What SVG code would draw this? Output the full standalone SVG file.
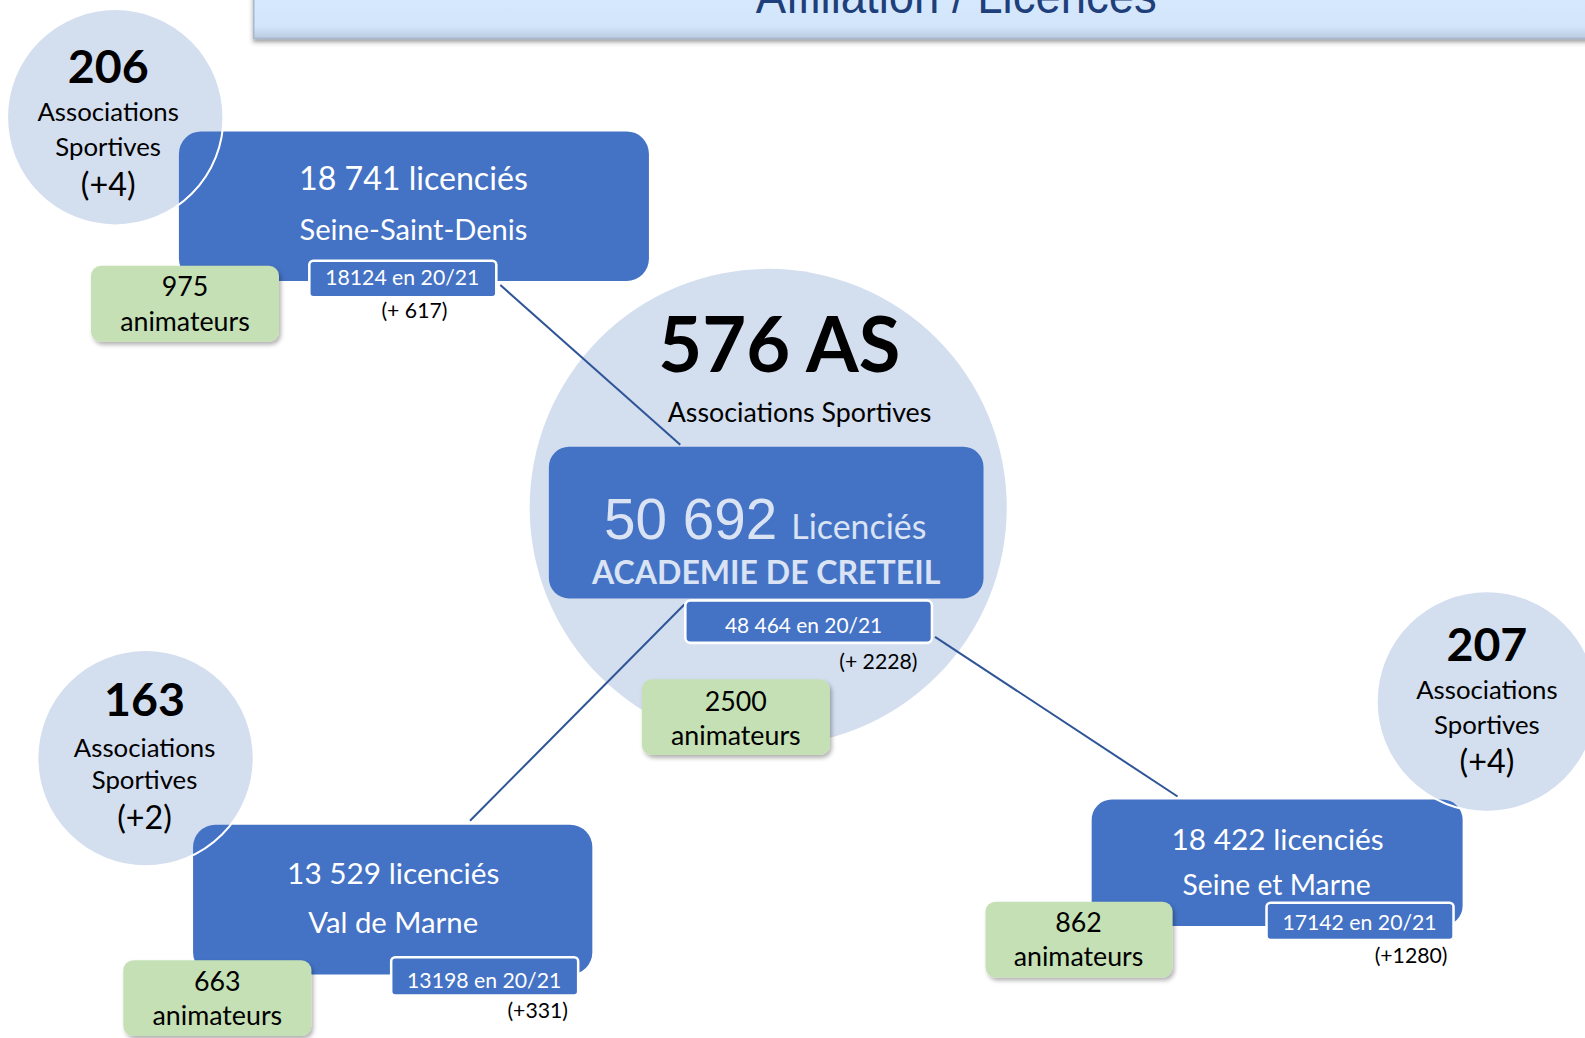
<svg xmlns="http://www.w3.org/2000/svg" width="1585" height="1038" viewBox="0 0 1585 1038">
<defs>
<style>
.circ{fill:#D3DEEF}
.ring{fill:none;stroke:#FFFFFF;stroke-width:2}
.box{fill:#4472C4}
.lbl{fill:#4472C4;stroke:#FFFFFF;stroke-width:2.5}
.green{fill:#C5E0B4;filter:url(#sh)}
.t{font-family:Lato,"Open Sans","Liberation Sans",sans-serif;text-anchor:middle}
.w{fill:#FFFFFF}
.k{fill:#000000}
.big{font-weight:bold}
.n{font-size:46px}
.as{font-size:25.5px}
.pl{font-size:32px}
.sm{font-size:21px}
.an{font-size:26.5px}
.conn{stroke:#2F5597;stroke-width:2;fill:none}
</style>
<filter id="sh" x="-20%" y="-20%" width="140%" height="150%">
<feDropShadow dx="2" dy="3" stdDeviation="2" flood-color="#000000" flood-opacity="0.3"/>
</filter>
<filter id="bsh" x="-5%" y="-50%" width="110%" height="200%">
<feDropShadow dx="0" dy="3" stdDeviation="2" flood-color="#404040" flood-opacity="0.5"/>
</filter>
<linearGradient id="bg" x1="0" y1="0" x2="0" y2="1">
<stop offset="0" stop-color="#D7E9FD"/>
<stop offset="0.75" stop-color="#D3E5FA"/>
<stop offset="1" stop-color="#B9CBE0"/>
</linearGradient>
</defs>
<g transform="scale(1.0108)">
<g id="banner">
<rect x="251" y="-10" width="1340" height="48" fill="url(#bg)" stroke="#A8B8CC" stroke-width="1.5" filter="url(#bsh)"/>
<text x="946" y="13" font-family="'Liberation Sans',Arial,sans-serif" font-size="45" fill="#1F3F7A" text-anchor="middle" transform="translate(946 13) scale(1 1.1) translate(-946 -13)">Affiliation / Licences</text>
</g>

<g id="center-circle">
<circle class="circ" cx="760" cy="502" r="236"/>
</g>

<g id="connectors">
<line class="conn" x1="495" y1="282" x2="673" y2="440"/>
<line class="conn" x1="677" y1="598" x2="465" y2="812"/>
<line class="conn" x1="925" y1="630" x2="1165" y2="788"/>
</g>

<g id="academie">
<text class="t k big" x="771" y="368" font-size="75">576 AS</text>
<text class="t k" x="791" y="417" font-size="26.5">Associations Sportives</text>
<rect class="box" x="543" y="442" width="430" height="150" rx="20"/>
<text x="757" y="533" text-anchor="middle" fill="#DAE3F3"><tspan font-family="'Liberation Sans',Arial,sans-serif" font-size="56">50 692</tspan><tspan font-family="Lato,'Open Sans',sans-serif" font-size="33.5" dx="14">Licenciés</tspan></text>
<text class="t big" x="758" y="578" font-size="31.7" fill="#DAE3F3">ACADEMIE DE CRETEIL</text>
<rect class="lbl" x="678" y="594" width="244" height="42" rx="5"/>
<text class="t w" x="795" y="626" font-size="20.7">48 464 en 20/21</text>
<text class="t k sm" x="869" y="662">(+ 2228)</text>
<rect class="green" x="635" y="672" width="186" height="75" rx="10"/>
<text class="t k an" x="728" y="703">2500</text>
<text class="t k an" x="728" y="737">animateurs</text>
</g>

<g id="seine-saint-denis">
<circle class="circ" cx="114" cy="116" r="107"/>
<rect class="box" x="177" y="130" width="465" height="148" rx="22"/>
<circle class="ring" cx="114" cy="116" r="107"/>
<text class="t k big n" x="107" y="82">206</text>
<text class="t k as" x="107" y="120">Associations</text>
<text class="t k as" x="107" y="154">Sportives</text>
<text class="t k pl" x="107" y="194">(+4)</text>
<text class="t w" x="409" y="188" font-size="31.8">18 741 licenciés</text>
<text class="t w" x="409" y="237" font-size="28.8">Seine-Saint-Denis</text>
<rect class="lbl" x="306" y="258" width="185" height="36" rx="4"/>
<text class="t w sm" x="398" y="282">18124 en 20/21</text>
<text class="t k sm" x="410" y="315">(+ 617)</text>
<rect class="green" x="90" y="263" width="186" height="75" rx="10"/>
<text class="t k an" x="183" y="293">975</text>
<text class="t k an" x="183" y="327">animateurs</text>
</g>

<g id="seine-et-marne">
<circle class="circ" cx="1471" cy="694" r="109"/>
<rect class="box" x="1080" y="791" width="367" height="125" rx="20"/>
<circle class="ring" cx="1471" cy="694" r="109"/>
<text class="t k big n" x="1471" y="654">207</text>
<text class="t k as" x="1471" y="692">Associations</text>
<text class="t k as" x="1471" y="726">Sportives</text>
<text class="t k pl" x="1471" y="765">(+4)</text>
<text class="t w" x="1264" y="841" font-size="29.5">18 422 licenciés</text>
<text class="t w" x="1263" y="885" font-size="28">Seine et Marne</text>
<rect class="lbl" x="1253" y="893" width="185" height="37" rx="4"/>
<text class="t w sm" x="1345" y="920">17142 en 20/21</text>
<text class="t k sm" x="1396" y="953">(+1280)</text>
<rect class="green" x="975" y="892" width="185" height="75" rx="10"/>
<text class="t k an" x="1067" y="922">862</text>
<text class="t k an" x="1067" y="956">animateurs</text>
</g>

<g id="val-de-marne">
<circle class="circ" cx="144" cy="750" r="107"/>
<rect class="box" x="191" y="816" width="395" height="148" rx="22"/>
<circle class="ring" cx="144" cy="750" r="107"/>
<text class="t k big n" x="143" y="708">163</text>
<text class="t k as" x="143" y="749">Associations</text>
<text class="t k as" x="143" y="781">Sportives</text>
<text class="t k pl" x="143" y="820">(+2)</text>
<text class="t w" x="389" y="875" font-size="29.5">13 529 licenciés</text>
<text class="t w" x="389" y="923" font-size="29">Val de Marne</text>
<rect class="lbl" x="387" y="947" width="185" height="38" rx="4"/>
<text class="t w sm" x="479" y="977">13198 en 20/21</text>
<text class="t k sm" x="532" y="1007">(+331)</text>
<rect class="green" x="122" y="950" width="186" height="75" rx="10"/>
<text class="t k an" x="215" y="980">663</text>
<text class="t k an" x="215" y="1014">animateurs</text>
</g>
</g>
</svg>
